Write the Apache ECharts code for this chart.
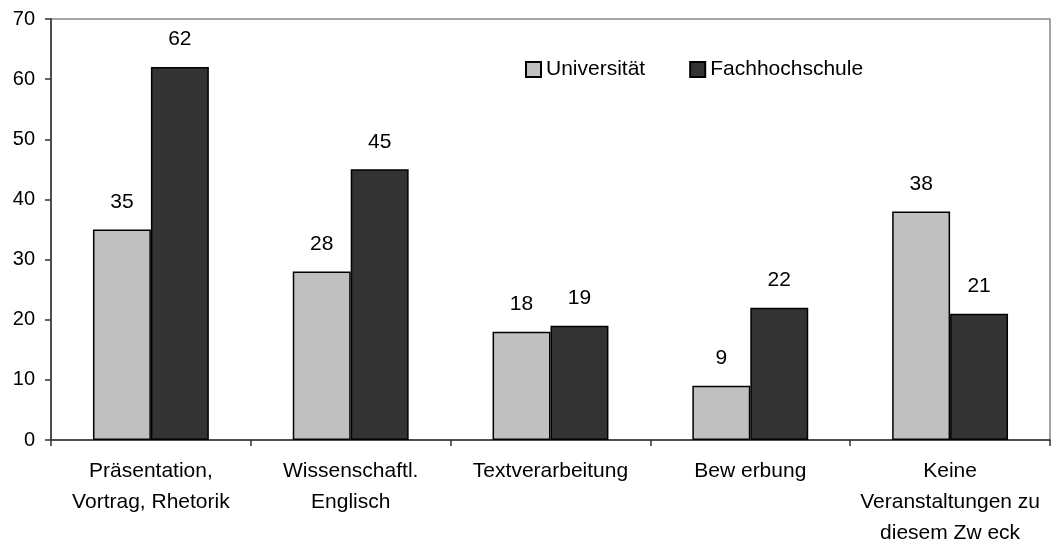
<!DOCTYPE html>
<html>
<head>
<meta charset="utf-8">
<script src="https://cdn.jsdelivr.net/npm/echarts@6/dist/echarts.min.js"></script>
<style>
  html, body { margin: 0; padding: 0; background: #fff; }
  #chart { width: 1051px; height: 549px; }
</style>
</head>
<body>
<div id="chart"></div>
<script>
const categories = [
    'Präsentation,\nVortrag, Rhetorik',
    'Wissenschaftl.\nEnglisch',
    'Textverarbeitung',
    'Bew erbung',
    'Keine\nVeranstaltungen zu\ndiesem Zw eck'
];
const universitaet = [35, 28, 18, 9, 38];
const fachhochschule = [62, 45, 19, 22, 21];
const yTicks = { min: 0, max: 70, interval: 10 };

const font = 'Liberation Sans, Arial, sans-serif';

const chart = echarts.init(document.getElementById('chart'));

const barLabel = {
    show: true,
    position: 'top',
    distance: 17,
    fontSize: 21,
    fontFamily: font,
    color: '#000'
};

chart.setOption({
    animation: false,
    grid: {
        left: 51,
        right: 1,
        top: 19,
        bottom: 103,
        show: true,
        borderColor: '#888',
        borderWidth: 1.5
    },
    legend: {
        top: 54,
        left: 520,
        itemWidth: 15,
        itemHeight: 15,
        itemGap: 44,
        icon: 'rect',
        textStyle: { fontSize: 21, fontFamily: font, color: '#000' },
        data: ['Universität', 'Fachhochschule']
    },
    xAxis: {
        type: 'category',
        data: categories,
        axisLine: { lineStyle: { color: '#333', width: 1.5 } },
        axisTick: { show: true, length: 6, lineStyle: { color: '#333', width: 1.5 } },
        axisLabel: {
            fontSize: 21,
            fontFamily: font,
            color: '#000',
            lineHeight: 31,
            margin: 16,
            interval: 0
        }
    },
    yAxis: {
        type: 'value',
        min: yTicks.min,
        max: yTicks.max,
        interval: yTicks.interval,
        splitLine: { show: false },
        axisLine: { show: true, lineStyle: { color: '#333', width: 1.5 } },
        axisTick: { show: true, length: 6, lineStyle: { color: '#333', width: 1.5 } },
        axisLabel: {
            fontSize: 20,
            fontFamily: font,
            color: '#000',
            margin: 16
        }
    },
    series: [
        {
            name: 'Universität',
            type: 'bar',
            data: universitaet,
            barGap: '0%',
            barCategoryGap: '42%',
            itemStyle: { color: '#c0c0c0', borderColor: '#000', borderWidth: 1.5 },
            label: barLabel
        },
        {
            name: 'Fachhochschule',
            type: 'bar',
            data: fachhochschule,
            itemStyle: { color: '#333333', borderColor: '#000', borderWidth: 1.5 },
            label: barLabel
        }
    ]
});
</script>
</body>
</html>
